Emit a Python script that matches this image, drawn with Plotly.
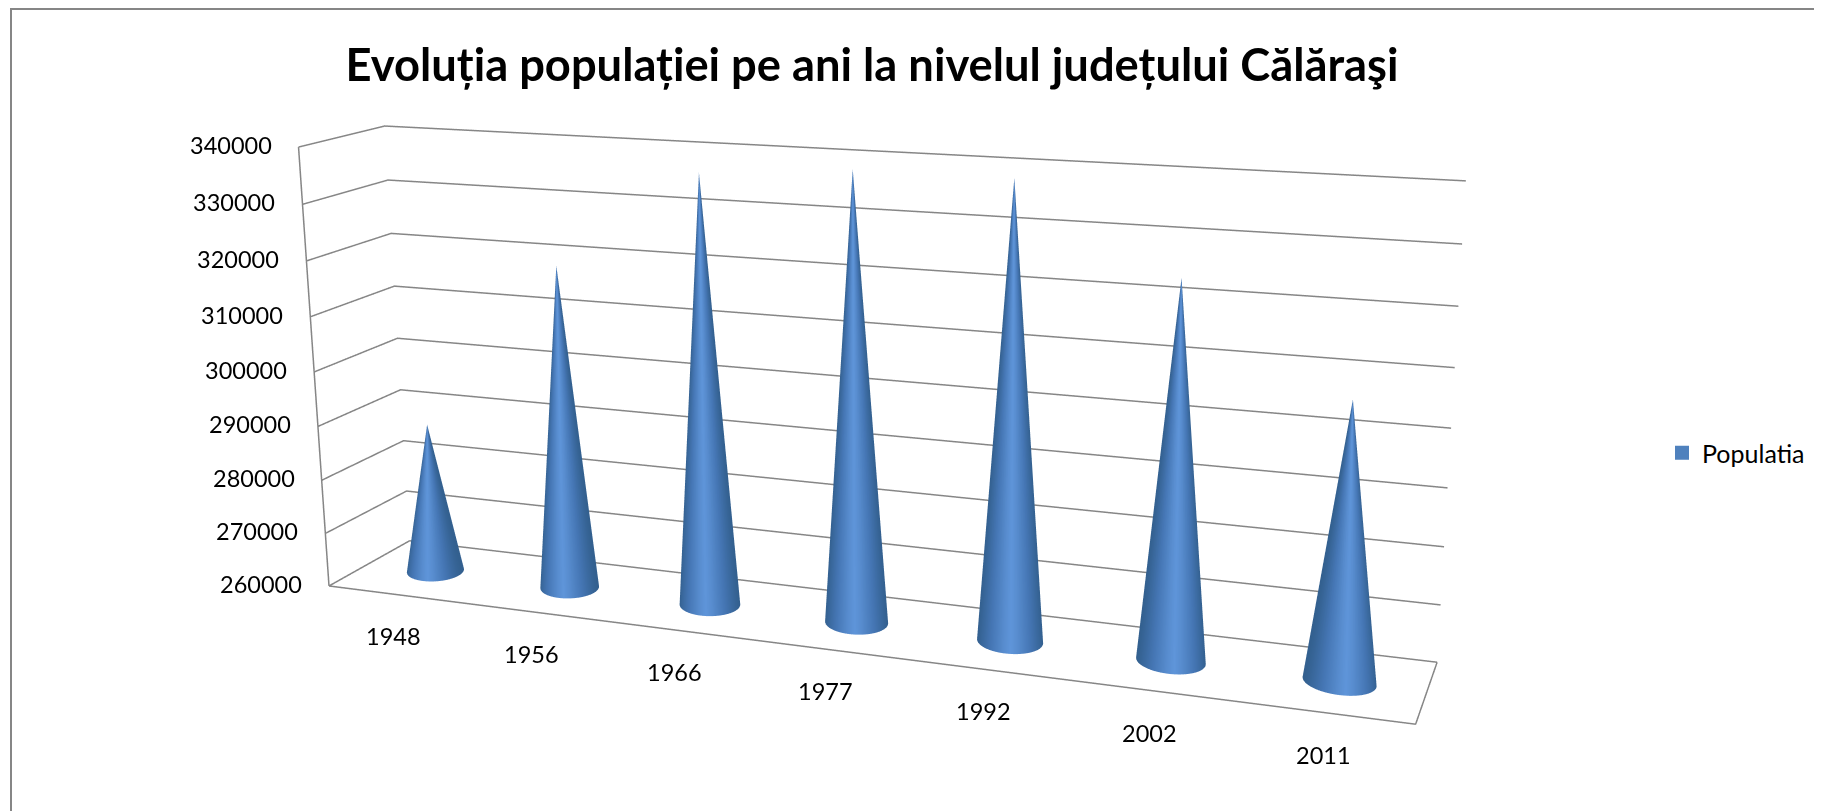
import math
import plotly.graph_objects as go

years = ["1948","1956","1966","1977","1992","2002","2011"]
populatia = [288000,319200,337000,339000,339000,324500,307000]
z_ticks = [260000,270000,280000,290000,300000,310000,320000,330000,340000]
series_name = "Populatia"
title_text = "Evoluția populației pe ani la nivelul județului Călăraşi"

ZMIN, ZMAX = 260000, 340000
W, H = 1814, 803
CX = 792.0
eye = dict(x=0.20065, y=-2.0, z=0.20311)
center = dict(x=-0.11241, y=-0.0167, z=-0.02278)
up = dict(x=-0.00359, y=-0.00057, z=1)
Ax, Ay, Az = 2.24912, 0.1581, 0.95938
SHEAR_X_D, SHEAR_Z_D, SHEAR_X_Z, SHEAR_Z_X = 0.10385, 0.06804, -0.014, -0.16393
SX, SY, SZ = 16.0, 3.0, 240000.0
LINE = "#868686"
FONT = "Lato"


def place(x, d, z):
    zt = (z - ZMIN) / (ZMAX - ZMIN)
    return (x + (SHEAR_X_D * (d - .5) + SHEAR_X_Z * (zt - .5)) * 7 / Ax,
            d,
            z + (SHEAR_Z_D * (d - .5) + SHEAR_Z_X * (x / 7 - .5)) * (ZMAX - ZMIN) / Az)


fig = go.Figure()
n = 64
R, Rd = .21, .22
for i, v in enumerate(populatia):
    xs, ys, zs, I, J, K, t = [], [], [], [], [], [], []
    bx, _, _ = place(i + .5, .5, ZMIN)
    tipx, tipy, tipz = place(i + .5, .5, v)
    for k in range(n):
        base = len(xs)
        for th in (2 * math.pi * k / n, 2 * math.pi * (k + 1) / n):
            d = .5 + Rd * math.sin(th)
            xs.append(bx + R * math.cos(th))
            ys.append(d)
            zs.append(place(i + .5, d, ZMIN)[2])
            t.append(1 - abs(math.cos(th)))
        xs.append(tipx); ys.append(tipy); zs.append(tipz)
        t.append((t[-1] + t[-2]) / 2)
        I.append(base); J.append(base + 1); K.append(base + 2)
    fig.add_trace(go.Mesh3d(x=xs, y=ys, z=zs, i=I, j=J, k=K, intensity=t, intensitymode="vertex",
                            colorscale=[[0, "#33608f"], [.4, "#4576b4"], [.8, "#588dcf"], [1, "#5f95da"]],
                            cmin=0, cmax=1, showscale=False,
                            lighting=dict(ambient=1, diffuse=0, specular=0, roughness=1, fresnel=0),
                            hoverinfo="skip", showlegend=False))


def line(pts):
    P = [place(*q) for q in pts]
    fig.add_trace(go.Scatter3d(x=[q[0] for q in P], y=[q[1] for q in P], z=[q[2] for q in P], mode="lines",
                               line=dict(color=LINE, width=3), hoverinfo="skip", showlegend=False))


for zv in z_ticks:
    line([(0, 0, zv), (0, 1, zv), (7, 1, zv)])
line([(0, 0, ZMIN), (0, 0, ZMAX)])
line([(0, 0, ZMIN), (7, 0, ZMIN), (7, 1, ZMIN)])
fig.add_trace(go.Scatter3d(x=[None], y=[None], z=[None], mode="markers", name=series_name,
                           marker=dict(symbol="square", size=14, color="#4f81bd")))

ann = []
for v in z_ticks:
    X, Y, Z = place(0, 0, v)
    ann.append(dict(x=X, y=Y, z=Z, text=str(v), showarrow=False, xanchor="right", xshift=-25, yshift=2,
                    font=dict(family=FONT, size=23.5, color="#000")))
for i, yl in enumerate(years):
    X, Y, Z = place(i + .5, 0, ZMIN)
    ann.append(dict(x=X, y=Y, z=Z, text=yl, showarrow=False, xshift=-2, yshift=-42,
                    font=dict(family=FONT, size=23.5, color="#000")))

ax = dict(visible=False, showbackground=False, showticklabels=False, showgrid=False, zeroline=False,
          showline=False, showspikes=False, title="", ticks="")
fig.update_layout(
    width=W, height=H, margin=dict(l=0, r=0, t=0, b=0), paper_bgcolor="white",
    title=dict(text=title_text, x=(872 - 8) / W, xanchor="center", y=1 - 57 / H, yanchor="middle",
               font=dict(family=FONT, size=45.3, color="#000", weight="bold")),
    legend=dict(x=(1662 - 8) / W, y=1 - (453 - 8) / H, xanchor="left", yanchor="middle",
                font=dict(family=FONT, size=25, color="#000")),
    showlegend=True,
    shapes=[dict(type="rect", xref="paper", yref="paper", x0=3 / W, x1=1.02, y0=-0.02, y1=1 - 1 / H,
                 line=dict(color=LINE, width=2))],
    scene=dict(domain=dict(x=[0, 2 * CX / W], y=[0, 1]),
               xaxis=dict(ax, range=[3.5 - SX / 2, 3.5 + SX / 2]),
               yaxis=dict(ax, range=[.5 - SY / 2, .5 + SY / 2]),
               zaxis=dict(ax, range=[300000 - SZ / 2, 300000 + SZ / 2]),
               aspectmode="manual", aspectratio=dict(x=Ax * SX / 7, y=Ay * SY, z=Az * SZ / 80000),
               camera=dict(eye=eye, center=center, up=up, projection=dict(type="perspective")),
               annotations=ann))
fig.write_html("out.html")
